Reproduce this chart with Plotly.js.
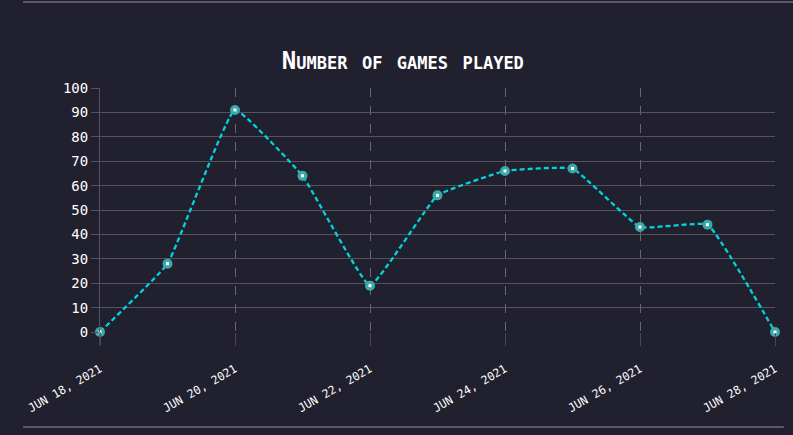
<!DOCTYPE html>
<html>
<head>
<meta charset="utf-8">
<script src="https://cdn.plot.ly/plotly-3.0.1.min.js"></script>
<style>
  html, body { margin: 0; padding: 0; background: #21202e; }
  #chart { width: 793px; height: 435px; }
</style>
</head>
<body>
<div id="chart"></div>
<script>
// games per day
var days = ['2021-06-18', '2021-06-19', '2021-06-20', '2021-06-21', '2021-06-22', '2021-06-23',
            '2021-06-24', '2021-06-25', '2021-06-26', '2021-06-27', '2021-06-28'];
var games = [0, 28, 91, 64, 19, 56, 66, 67, 43, 44, 0];

var tickDays = ['2021-06-18', '2021-06-20', '2021-06-22', '2021-06-24', '2021-06-26', '2021-06-28'];
var tickLabels = ['JUN 18, 2021', 'JUN 20, 2021', 'JUN 22, 2021', 'JUN 24, 2021', 'JUN 26, 2021', 'JUN 28, 2021'];
var yTicks = [0, 10, 20, 30, 40, 50, 60, 70, 80, 90, 100];

var gridColor = '#56525f';
var mono = '"DejaVu Sans Mono", monospace';

var data = [
  {
    x: days,
    y: games,
    type: 'scatter',
    mode: 'lines+markers',
    line: { color: '#00d4dc', width: 2.3, dash: '5px,3px', shape: 'spline', smoothing: 0.3 },
    marker: { size: 10, color: '#3aa9aa' },
    cliponaxis: false,
    hoverinfo: 'x+y',
    showlegend: false
  },
  {
    x: days,
    y: games,
    type: 'scatter',
    mode: 'markers',
    marker: { size: 3, color: '#ffffff', symbol: 'square' },
    cliponaxis: false,
    hoverinfo: 'skip',
    showlegend: false
  }
];

var layout = {
  width: 793,
  height: 435,
  paper_bgcolor: '#21202e',
  plot_bgcolor: '#21202e',
  margin: { l: 100, r: 18, t: 88, b: 103 },
  title: {
    text: '<b>Number of games played</b>',
    font: { family: mono, size: 24, color: '#ffffff', variant: 'small-caps' },
    x: 0.508,
    xanchor: 'center',
    y: 1 - 61 / 435,
    yref: 'container',
    yanchor: 'middle'
  },
  xaxis: {
    type: 'date',
    range: ['2021-06-18', '2021-06-28'],
    tickvals: tickDays,
    ticktext: tickLabels,
    tickangle: -30,
    tickfont: { family: mono, size: 11.5, color: '#ffffff' },
    ticklabelstandoff: 12,
    showgrid: true,
    gridcolor: '#6a6675',
    griddash: 'dash',
    gridwidth: 1,
    ticks: 'outside',
    ticklen: 13,
    tickcolor: '#4a4755',
    showline: false,
    zeroline: false,
    fixedrange: true
  },
  yaxis: {
    range: [0, 100],
    tickvals: yTicks,
    tickfont: { family: mono, size: 14, color: '#ffffff' },
    showgrid: true,
    gridcolor: gridColor,
    gridwidth: 1,
    ticks: 'outside',
    ticklen: 8,
    tickcolor: gridColor,
    showline: true,
    linecolor: gridColor,
    linewidth: 1,
    zeroline: false,
    fixedrange: true
  },
  shapes: [
    { type: 'line', xref: 'paper', yref: 'paper', x0: -0.114, x1: 1.03, y0: 1.352, y1: 1.352,
      line: { color: '#5c5868', width: 2 } },
    { type: 'line', xref: 'paper', yref: 'paper', x0: -0.114, x1: 1.013, y0: -0.389, y1: -0.389,
      line: { color: '#5c5868', width: 2 } },
    { type: 'line', xref: 'paper', yref: 'paper', x0: 0, x1: 0, y0: 0, y1: -0.053,
      line: { color: gridColor, width: 1 } }
  ]
};

Plotly.newPlot('chart', data, layout, { displayModeBar: false, staticPlot: true });
</script>
</body>
</html>
